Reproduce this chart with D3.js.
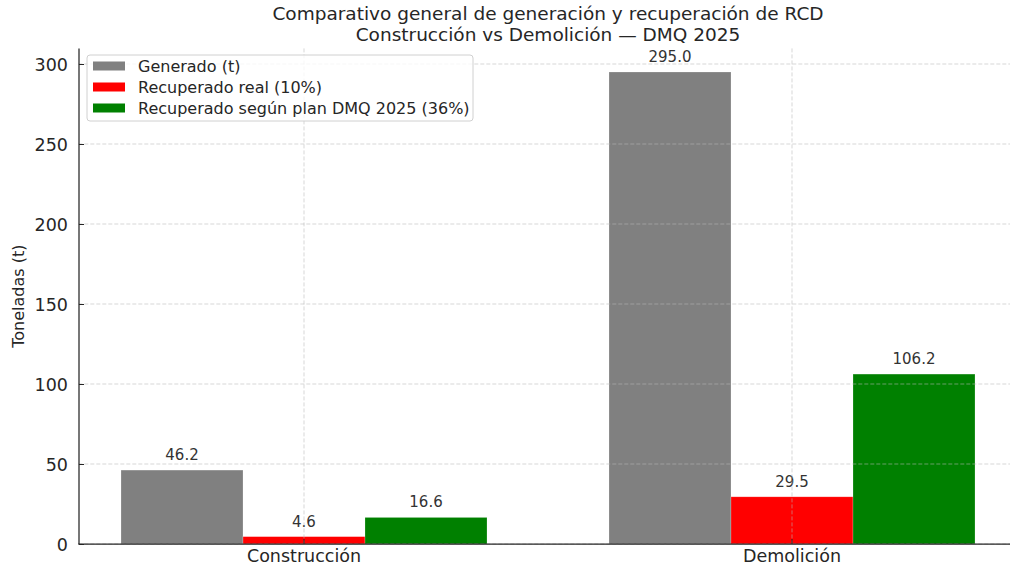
<!DOCTYPE html>
<html lang="es">
<head>
<meta charset="utf-8">
<script src="https://cdn.jsdelivr.net/npm/d3@7"></script>
<style>
  html, body { margin: 0; padding: 0; background: #fff; }
  svg { display: block; font-family: "DejaVu Sans", sans-serif; }
</style>
</head>
<body>
<svg id="chart" width="1010" height="566"></svg>
<script>
// Categories and series
const categories = ["Construcción", "Demolición"];
const seriesNames = ["Generado (t)", "Recuperado real (10%)", "Recuperado según plan DMQ 2025 (36%)"];
const seriesColors = ["#808080", "#ff0000", "#008000"];
const generado = [46.2, 295.0];
const recuperadoReal = [4.6, 29.5];
const recuperadoPlan = [16.6, 106.2];
const yTicks = [0, 50, 100, 150, 200, 250, 300];
const titleLines = ["Comparativo general de generación y recuperación de RCD", "Construcción vs Demolición — DMQ 2025"];
const yLabel = "Toneladas (t)";

const seriesValues = [generado, recuperadoReal, recuperadoPlan];

const svg = d3.select("#chart");
const W = 1010, H = 566;
const plot = { left: 78.3, right: 1017.7, top: 48.4, bottom: 544 };
const textColor = "#262626";

const x0 = d3.scaleBand().domain(categories).range([plot.left, plot.right])
  .paddingInner(0.25).paddingOuter(0.0875);
const x1 = d3.scaleBand().domain(d3.range(seriesNames.length)).range([0, x0.bandwidth()]);
const y = d3.scaleLinear().domain([0, 295.0 * 1.05]).range([plot.bottom, plot.top]);

svg.append("defs").append("clipPath").attr("id", "clip")
  .append("rect").attr("x", 0).attr("y", 0).attr("width", W).attr("height", H);

// Bars
const groups = svg.append("g").attr("clip-path", "url(#clip)")
  .selectAll("g.cat").data(categories).join("g")
  .attr("transform", c => `translate(${x0(c)},0)`);

groups.selectAll("rect").data((c, ci) => seriesValues.map((vals, si) => ({ si, v: vals[ci] })))
  .join("rect")
  .attr("x", d => x1(d.si))
  .attr("width", x1.bandwidth())
  .attr("y", d => y(d.v))
  .attr("height", d => y(0) - y(d.v))
  .attr("fill", d => seriesColors[d.si])
  .attr("stroke", "#ffffff")
  .attr("stroke-opacity", 0.35)
  .attr("stroke-width", 0.6);

// Grid (drawn over the bars)
const grid = svg.append("g").attr("clip-path", "url(#clip)")
  .attr("stroke", "#b8b8b8").attr("stroke-opacity", 0.7)
  .attr("stroke-width", 0.8).attr("stroke-dasharray", "4,2");
grid.selectAll("line.h").data(yTicks).join("line")
  .attr("x1", plot.left).attr("x2", plot.right)
  .attr("y1", d => y(d)).attr("y2", d => y(d));
grid.selectAll("line.v").data(categories).join("line")
  .attr("x1", c => x0(c) + x0.bandwidth() / 2).attr("x2", c => x0(c) + x0.bandwidth() / 2)
  .attr("y1", plot.top).attr("y2", plot.bottom);

// Value labels
groups.selectAll("text").data((c, ci) => seriesValues.map((vals, si) => ({ si, v: vals[ci] })))
  .join("text")
  .attr("x", d => x1(d.si) + x1.bandwidth() / 2)
  .attr("y", d => y(d.v) - 10)
  .attr("text-anchor", "middle")
  .attr("font-size", 15)
  .attr("fill", "#333")
  .text(d => d.v.toFixed(1));

// Y axis
const yAxis = svg.append("g")
  .attr("transform", `translate(${plot.left + 0.7},0)`)
  .call(d3.axisLeft(y).tickValues(yTicks).tickSizeInner(-5).tickSizeOuter(0).tickPadding(11).tickFormat(d3.format("d")));
yAxis.select(".domain").attr("stroke", textColor).attr("stroke-width", 1.25)
  .attr("d", `M0,${plot.bottom}V${plot.top}`);
yAxis.selectAll(".tick line").attr("stroke", textColor).attr("stroke-width", 1);
yAxis.selectAll(".tick text").attr("font-size", 17.5).attr("fill", textColor)
  .attr("font-family", "DejaVu Sans").attr("dy", "0.36em");

// X axis
const xAxis = svg.append("g")
  .attr("transform", `translate(0,${plot.bottom})`)
  .call(d3.axisBottom(x0).tickSizeInner(-5).tickSizeOuter(0).tickPadding(0));
xAxis.select(".domain").attr("stroke", textColor).attr("stroke-width", 1.25)
  .attr("d", `M${plot.left},0H${W}`);
xAxis.selectAll(".tick line").attr("stroke", textColor).attr("stroke-width", 1);
xAxis.selectAll(".tick text").attr("font-size", 17.5).attr("fill", textColor)
  .attr("font-family", "DejaVu Sans").attr("y", 17.5).attr("dy", null);

// Y label
svg.append("text")
  .attr("transform", `translate(24,${(plot.top + plot.bottom) / 2}) rotate(-90)`)
  .attr("text-anchor", "middle")
  .attr("font-size", 16)
  .attr("fill", textColor)
  .text(yLabel);

// Two-line title
const cx = (plot.left + plot.right) / 2;
svg.append("g").selectAll("text").data(titleLines).join("text")
  .attr("text-anchor", "middle")
  .attr("font-size", 18.5)
  .attr("fill", textColor)
  .attr("x", cx)
  .attr("y", (d, i) => 19.5 + i * 21.5)
  .text(d => d);

// Legend
const legend = svg.append("g");
legend.append("rect")
  .attr("x", 87).attr("y", 55).attr("width", 386).attr("height", 66)
  .attr("rx", 3).attr("fill", "#fff").attr("fill-opacity", 0.8)
  .attr("stroke", "#d0d0d0").attr("stroke-width", 1);
const rows = legend.selectAll("g.row").data(seriesNames).join("g")
  .attr("transform", (d, i) => `translate(0,${66 + i * 21})`);
rows.append("rect").attr("x", 93).attr("y", -4.5).attr("width", 32).attr("height", 9)
  .attr("fill", (d, i) => seriesColors[i]);
rows.append("text").attr("x", 138).attr("y", 5.5)
  .attr("font-size", 16).attr("fill", textColor).text(d => d);
</script>
</body>
</html>
